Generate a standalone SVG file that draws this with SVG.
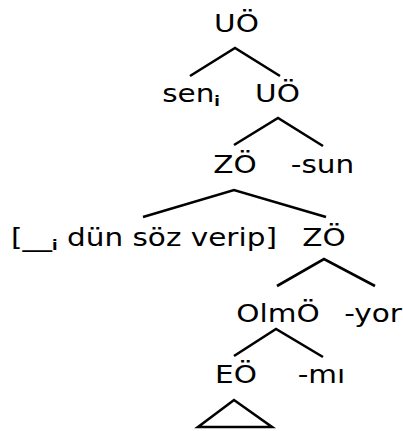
<svg xmlns="http://www.w3.org/2000/svg" width="403" height="431" viewBox="0 0 403 431">
<style>
.t{font-family:"DejaVu Sans",sans-serif;font-size:25.5px;fill:#000;text-anchor:middle}
.s{font-weight:bold;font-size:14px}
.e{stroke:#000;stroke-width:2.6;fill:none;stroke-linecap:butt}
</style>
<rect width="403" height="431" fill="#fff"/>
<g id="connectors">
<path class="e" d="M190,76 L235,48 L280,76"/>
<path class="e" d="M234,145 L278,118 L323,146"/>
<path class="e" d="M143,217 L234,190 L326,217"/>
<path class="e" d="M277,286 L324,259 L375,286"/>
<path class="e" d="M234,356 L276,329 L323,357"/>
</g>
<g id="n1"><text class="t" transform="translate(236.5,32) scale(1.157,1)">UÖ</text></g>
<g id="n2"><text class="t" transform="translate(191,102) scale(1.157,1)">sen<tspan class="s" dy="3.5">i</tspan></text></g>
<g id="n3"><text class="t" transform="translate(277.5,102) scale(1.157,1)">UÖ</text></g>
<g id="n4"><text class="t" transform="translate(235,173) scale(1.157,1)">ZÖ</text></g>
<g id="n5"><text class="t" transform="translate(322.5,173) scale(1.157,1)">-sun</text></g>
<g id="n6"><text class="t" transform="translate(144,246) scale(1.157,1)">[__<tspan class="s" dy="3.5">i</tspan><tspan dy="-3.5"> dün söz verip]</tspan></text></g>
<g id="n7"><text class="t" transform="translate(324,246) scale(1.157,1)">ZÖ</text></g>
<g id="n8"><text class="t" transform="translate(278,322) scale(1.157,1)">OlmÖ</text></g>
<g id="n9"><text class="t" transform="translate(373,322) scale(1.157,1)">-yor</text></g>
<g id="n10"><text class="t" transform="translate(236,383) scale(1.157,1)">EÖ</text></g>
<g id="n11"><text class="t" transform="translate(321.5,383) scale(1.157,1)">-mı</text></g>
<g id="n12"><path class="e" d="M198,427 L234,400 L272,427 Z"/></g>
</svg>
